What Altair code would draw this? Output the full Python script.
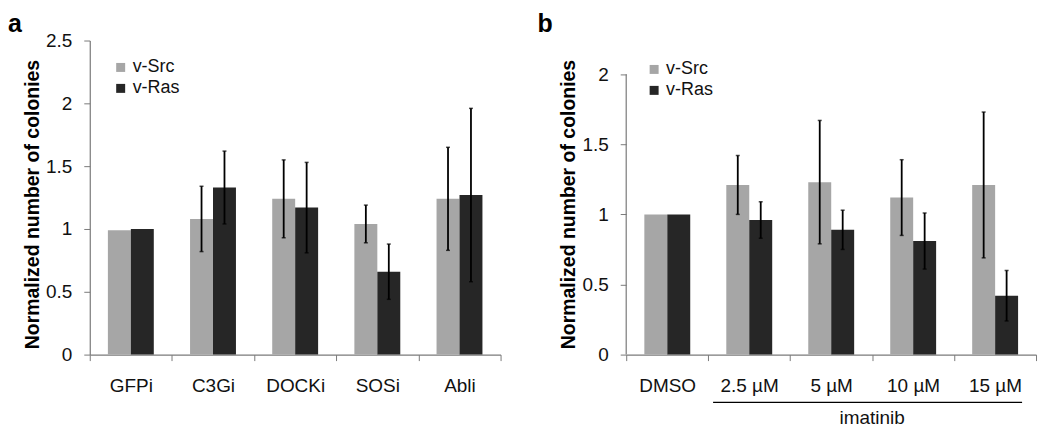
import altair as alt
import pandas as pd

series = ["v-Src", "v-Ras"]
colors = ["#A6A6A6", "#262626"]

cats_a = ["GFPi", "C3Gi", "DOCKi", "SOSi", "Abli"]
src_a = [0.99, 1.08, 1.24, 1.04, 1.24]
src_a_err = [0.0, 0.26, 0.31, 0.15, 0.41]
ras_a = [1.00, 1.33, 1.17, 0.66, 1.27]
ras_a_err = [0.0, 0.29, 0.36, 0.22, 0.69]

cats_b = ["DMSO", "2.5 µM", "5 µM", "10 µM", "15 µM"]
src_b = [1.00, 1.21, 1.23, 1.12, 1.21]
src_b_err = [0.0, 0.21, 0.44, 0.27, 0.52]
ras_b = [1.00, 0.96, 0.89, 0.81, 0.42]
ras_b_err = [0.0, 0.13, 0.14, 0.20, 0.18]

ticks_a = [0, 0.5, 1, 1.5, 2, 2.5]
ticks_b = [0, 0.5, 1, 1.5, 2]
axis_extent_b = [0, 2]

group_label = ["imatinib"]
group_start = ["2.5 µM"]
group_end = ["15 µM"]
group_mid = ["5 µM"]

FONT = "Liberation Sans"
AX = "#7a7a7a"
H = 315
YMAX_A = 2.5
YMAX_B = 2.24


def make_df(cats, src, src_err, ras, ras_err):
    rows = []
    for c, v, e in zip(cats, src, src_err):
        rows.append({"cat": c, "series": "v-Src", "value": v, "err": e})
    for c, v, e in zip(cats, ras, ras_err):
        rows.append({"cat": c, "series": "v-Ras", "value": v, "err": e})
    df = pd.DataFrame(rows)
    df["lo"] = df["value"] - df["err"]
    df["hi"] = df["value"] + df["err"]
    return df


def x_enc(cats, field="cat"):
    return alt.X(
        f"{field}:N",
        sort=cats,
        title=None,
        scale=alt.Scale(domain=cats, paddingInner=0, paddingOuter=0),
        axis=alt.Axis(
            tickBand="extent",
            labelAngle=0,
            labelFontSize=19,
            labelPadding=16,
            labelColor="#111111",
            tickSize=6,
            tickColor=AX,
            domainColor=AX,
            domainWidth=1.2,
        ),
    )


def panel_layers(df, cats, ymax, ticks, legend_x, legend_y, show_domain):
    base = alt.Chart(df)
    x = x_enc(cats)
    xo = alt.XOffset(
        "series:N",
        sort=series,
        scale=alt.Scale(domain=series, paddingInner=0, paddingOuter=0.79),
    )
    y = alt.Y(
        "value:Q",
        scale=alt.Scale(domain=[0, ymax], nice=False),
        axis=alt.Axis(
            values=ticks,
            format="~g",
            grid=False,
            domain=show_domain,
            labelFontSize=19,
            labelPadding=12,
            labelColor="#111111",
            tickSize=6,
            tickColor=AX,
            domainColor=AX,
            domainWidth=1.2,
            title="Normalized number of colonies",
            titleFontSize=19.5,
            titleFontWeight="bold",
            titleColor="#000000",
            titlePadding=3,
            titleY=164,
        ),
    )
    bars = base.mark_bar(strokeWidth=0).encode(
        x=x,
        xOffset=xo,
        y=y,
        color=alt.Color(
            "series:N",
            sort=series,
            scale=alt.Scale(domain=series, range=colors),
            legend=alt.Legend(
                title=None,
                orient="none",
                legendX=legend_x,
                legendY=legend_y,
                symbolType="square",
                symbolSize=81,
                symbolStrokeWidth=0,
                labelFontSize=18,
                labelOffset=3,
                rowPadding=3,
                padding=0,
                labelColor="#111111",
            ),
        ),
    )
    errs = base.transform_filter("datum.err > 0")
    rules = errs.mark_rule(color="#000000", strokeWidth=1.8).encode(
        x=x, xOffset=xo, y="lo:Q", y2="hi:Q"
    )
    cap_lo = errs.mark_tick(color="#000000", thickness=1.5, size=4).encode(
        x=x, xOffset=xo, y="lo:Q"
    )
    cap_hi = errs.mark_tick(color="#000000", thickness=1.5, size=4).encode(
        x=x, xOffset=xo, y="hi:Q"
    )
    return [bars, rules, cap_lo, cap_hi]


df_a = make_df(cats_a, src_a, src_a_err, ras_a, ras_a_err)
df_b = make_df(cats_b, src_b, src_b_err, ras_b, ras_b_err)

layers_a = panel_layers(df_a, cats_a, YMAX_A, ticks_a, 22, 18, True)
layers_b = panel_layers(df_b, cats_b, YMAX_B, ticks_b, 19, 20, False)

# y axis line of panel b (only up to 2)
ax_df = pd.DataFrame({"y0": [axis_extent_b[0]], "y1": [axis_extent_b[1]]})
axis_line_b = alt.Chart(ax_df).mark_rule(color=AX, strokeWidth=1.2).encode(
    x=alt.value(0),
    y=alt.Y("y0:Q", scale=alt.Scale(domain=[0, YMAX_B], nice=False)),
    y2="y1:Q",
)

# imatinib group bracket in panel b
grp_df = pd.DataFrame(
    {"cat": group_start, "cat_end": group_end, "mid": group_mid, "label": group_label}
)
grp_rule = alt.Chart(grp_df).mark_rule(color="#000000", strokeWidth=1.2).encode(
    x=alt.X("cat:N", sort=cats_b, bandPosition=0.06),
    x2=alt.X2("cat_end:N", bandPosition=0.83),
    y=alt.value(H + 48),
)
grp_text = alt.Chart(grp_df).mark_text(
    fontSize=19, color="#111111", baseline="middle", align="center"
).encode(
    x=alt.X("mid:N", sort=cats_b, bandPosition=1.0),
    y=alt.value(H + 64),
    text="label:N",
)

chart_a = alt.layer(*layers_a).properties(
    width=412,
    height=H,
    title=alt.TitleParams(
        "a", anchor="start", frame="group", fontSize=25, fontWeight="bold",
        dx=-82, offset=-5, color="#000000",
    ),
)
chart_b = alt.layer(*layers_b, axis_line_b, grp_rule, grp_text).properties(
    width=411,
    height=H,
    title=alt.TitleParams(
        "b", anchor="start", frame="group", fontSize=25, fontWeight="bold",
        dx=-89, offset=4, color="#000000",
    ),
)

chart = (
    alt.hconcat(chart_a, chart_b, spacing=36)
    .resolve_scale(color="independent", x="independent", y="independent")
    .configure(font=FONT, padding={"left": 0, "top": 3, "right": 5, "bottom": 3})
    .configure_view(stroke=None)
)

chart.save("out.html", embed_options={"renderer": "svg", "actions": False})
